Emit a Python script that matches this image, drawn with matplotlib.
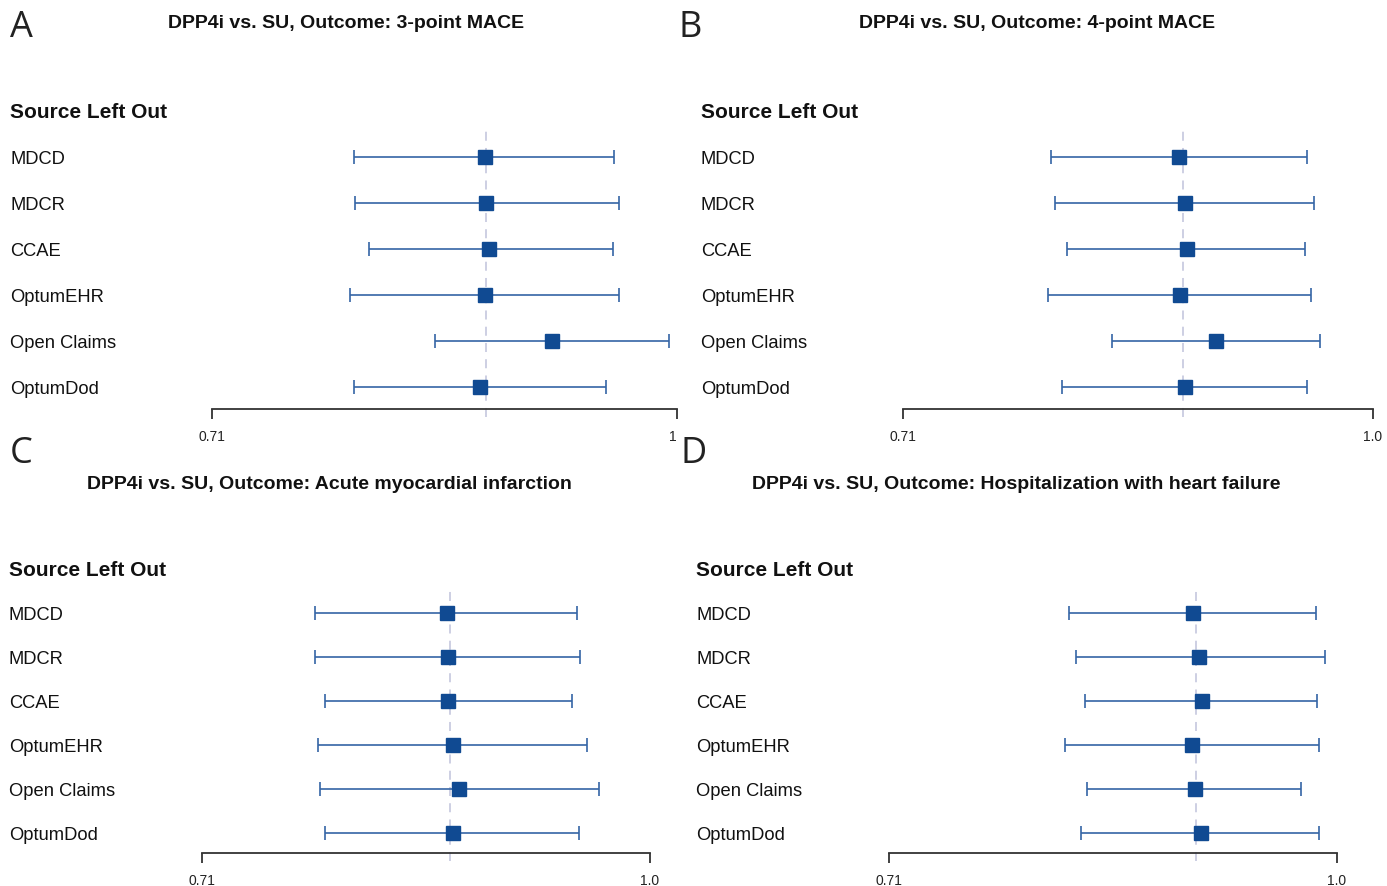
import matplotlib
matplotlib.use("Agg")
import matplotlib.pyplot as plt
from matplotlib.transforms import blended_transform_factory, ScaledTranslation
import numpy as np

# ---------------- data ----------------
sources = ["MDCD", "MDCR", "CCAE", "OptumEHR", "Open Claims", "OptumDod"]

titles = [
    "DPP4i vs. SU, Outcome: 3-point MACE",
    "DPP4i vs. SU, Outcome: 4-point MACE",
    "DPP4i vs. SU, Outcome: Acute myocardial infarction",
    "DPP4i vs. SU, Outcome: Hospitalization with heart failure",
]
letters = ["A", "B", "C", "D"]

# hazard ratio point estimates
hr_a = [0.868, 0.869, 0.871, 0.868, 0.912, 0.865]
hr_b = [0.868, 0.872, 0.873, 0.869, 0.892, 0.872]
hr_c = [0.856, 0.857, 0.857, 0.860, 0.864, 0.860]
hr_d = [0.896, 0.900, 0.902, 0.895, 0.897, 0.901]

# lower confidence bounds
lo_a = [0.788, 0.789, 0.797, 0.786, 0.837, 0.788]
lo_b = [0.791, 0.793, 0.800, 0.789, 0.827, 0.797]
lo_c = [0.774, 0.774, 0.780, 0.776, 0.777, 0.780]
lo_d = [0.815, 0.819, 0.825, 0.812, 0.826, 0.822]

# upper confidence bounds
hi_a = [0.955, 0.958, 0.954, 0.958, 0.994, 0.949]
hi_b = [0.953, 0.958, 0.952, 0.956, 0.962, 0.953]
hi_c = [0.946, 0.948, 0.942, 0.953, 0.962, 0.947]
hi_d = [0.984, 0.991, 0.985, 0.986, 0.973, 0.986]

# pooled estimate (dashed reference line)
pooled = [0.869, 0.871, 0.858, 0.898]

x_min, x_max = 0.71, 1.0
tick_labels = [["0.71", "1"], ["0.71", "1.0"], ["0.71", "1.0"], ["0.71", "1.0"]]

# ---------------- layout (pixels) ----------------
W, H = 1387, 886
fig = plt.figure(figsize=(W / 100, H / 100), dpi=100)

def fx(x):
    return x / W

def fy(y):
    return 1 - y / H

# left, right, top(px), bottom(px), label_x, title_cx, title_y, letter_x, letter_y, row0, spacing
layout = [
    (212, 677, 130, 409, 10, 346, 23, 10, 28, 157, 46),
    (903, 1373, 130, 409, 701, 1037, 23, 678, 28, 157, 46),
    (202, 650, 590, 853, 9, 329, 485, 10, 454, 613, 44),
    (889, 1337, 590, 853, 696, 1016, 485, 680, 454, 613, 44),
]

his = [hr_a, hr_b, hr_c, hr_d]
los = [lo_a, lo_b, lo_c, lo_d]
ups = [hi_a, hi_b, hi_c, hi_d]

mark_col = "#104a92"
line_col = "#3565a5"
dash_col = "#c9cbe0"

down = ScaledTranslation(0, -2 / 100, fig.dpi_scale_trans)

for k in range(4):
    L, R, T, B, lx, tcx, ty, ltx, lty, r0, sp = layout[k]
    ax = fig.add_axes([fx(L), fy(B), (R - L) / W, (B - T) / H])
    n = len(sources)
    ypos = np.arange(n)
    top_pad = (r0 - T) / sp
    bot_pad = (B - (r0 + (n - 1) * sp)) / sp
    ax.set_xscale("log")
    ax.set_xlim(x_min, x_max)
    ax.set_ylim(n - 1 + bot_pad, -top_pad)

    hr = np.array(his[k])
    lo = np.array(los[k])
    hi = np.array(ups[k])
    ax.axvline(pooled[k], ymin=-0.03, ymax=1.0, color=dash_col, lw=1.3,
               ls=(0, (5, 4)), clip_on=False, zorder=1)
    ax.errorbar(hr, ypos, xerr=[hr - lo, hi - hr], fmt="none", ecolor=line_col,
                elinewidth=1.2, capsize=5, capthick=1.2, zorder=2)
    ax.plot(hr, ypos, "s", color=mark_col, ms=9.5, zorder=3)

    for s in ["top", "right", "left"]:
        ax.spines[s].set_visible(False)
    ax.spines["bottom"].set_color("#333333")
    ax.spines["bottom"].set_linewidth(1.3)
    ax.set_yticks([])
    ax.set_xticks([x_min, x_max])
    ax.set_xticklabels(tick_labels[k])
    ax.xaxis.set_minor_locator(matplotlib.ticker.NullLocator())
    ax.tick_params(axis="x", length=7, width=1.3, color="#333333", pad=8,
                   labelsize=10, labelcolor="#222222")
    for t in ax.get_xticklabels():
        t.set_fontfamily("Liberation Sans")
    if k == 0:
        ax.get_xticklabels()[-1].set_horizontalalignment("right")
    ax.patch.set_alpha(0)

    tr = blended_transform_factory(fig.transFigure, ax.transData) + down
    for i, s in enumerate(sources):
        fig.text(fx(lx), i, s, transform=tr, ha="left", va="center",
                 fontsize=13.2, family="Liberation Sans", color="#111111")
    fig.text(fx(lx), -1, "Source Left Out", transform=tr, ha="left", va="center",
             fontsize=15, family="Liberation Sans", fontweight="bold", color="#111111")

    fig.text(fx(tcx), fy(ty), titles[k], ha="center", va="center",
             fontsize=14, family="Liberation Sans", fontweight="bold", color="#111111")
    fig.text(fx(ltx), fy(lty), letters[k], ha="left", va="center",
             fontsize=26, family=["Open Sans", "DejaVu Sans"], fontweight="normal",
             color="#222222")

fig.savefig("out.png", dpi=100, facecolor="white")
